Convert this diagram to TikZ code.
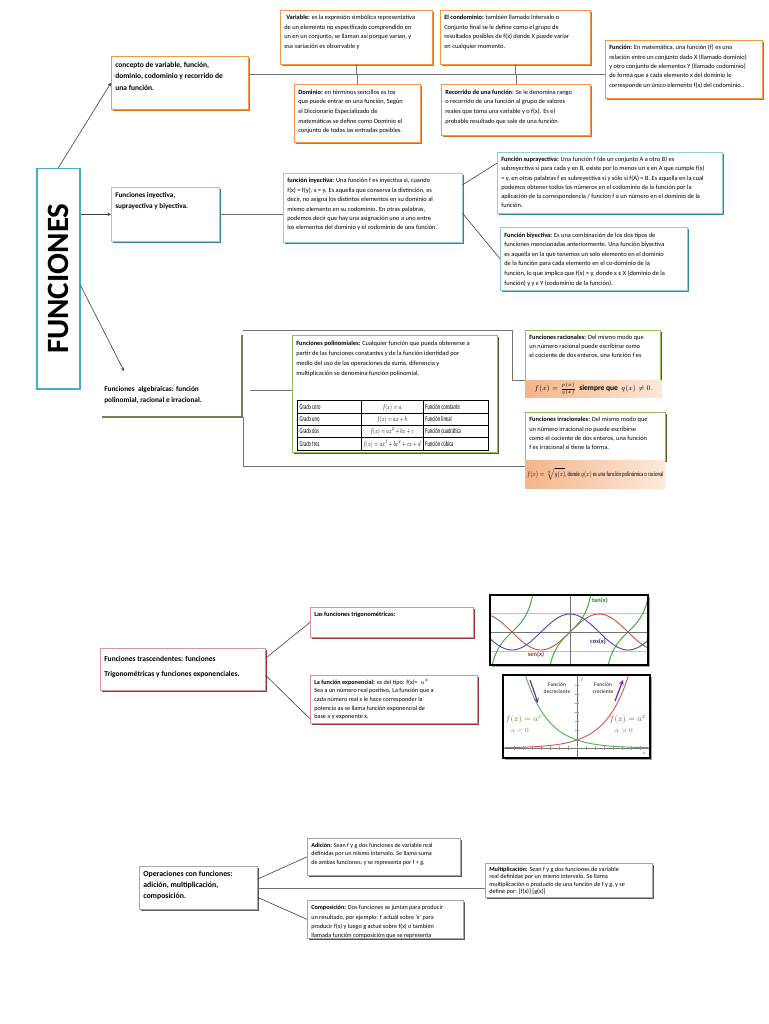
\documentclass[tikz,border=0pt]{standalone}
\usepackage{fontspec}
\setmainfont{Carlito}
\usepackage{graphicx}
\usepackage{array}
\usetikzlibrary{arrows, calc, shadows}

\definecolor{naranja}{HTML}{F79646}
\definecolor{naranjaOsc}{HTML}{E36C0A}
\definecolor{azul}{HTML}{4BACC6}
\definecolor{azulClaro}{HTML}{92CDDC}
\definecolor{azulOsc}{HTML}{31859C}
\definecolor{verde}{HTML}{9BBB59}
\definecolor{verdeOsc}{HTML}{4F6228}
\definecolor{rosa}{HTML}{D99694}
\definecolor{rojoOsc}{HTML}{943634}
\definecolor{gris}{HTML}{A6A6A6}
\definecolor{grisOsc}{HTML}{595959}
\definecolor{bandaIzq}{HTML}{F5B48A}
\definecolor{bandaDer}{HTML}{FDE9DA}
\definecolor{seno}{HTML}{C0504D}
\definecolor{coseno}{HTML}{4646B4}
\definecolor{tangente}{HTML}{3CA03C}
\definecolor{expVerde}{HTML}{4CAF50}
\definecolor{expRojo}{HTML}{D9534F}
\definecolor{violeta}{HTML}{7030A0}
\definecolor{oliva}{HTML}{8A7A2E}
\definecolor{ladrillo}{HTML}{A0463A}

% caja de texto con lineas fijas
\newcommand{\texto}[3]{\parbox[c][#2][t]{#1}{\begin{tabular}[t]{@{}l@{}}#3\end{tabular}}}
\newcommand{\angosto}[1]{\scalebox{0.62}[1]{#1}}

\begin{document}
\begin{tikzpicture}[x=1pt, y=-1pt]
    \tikzstyle{caja} = [rectangle, anchor=north west, inner xsep=4pt, inner ysep=3pt, fill=white, line width=0.6pt, font=\fontsize{6.4}{9.4}\selectfont]
    \tikzstyle{cajaNaranja} = [caja, draw=naranja, drop shadow={shadow xshift=1.3pt, shadow yshift=-1.3pt, fill=naranjaOsc, opacity=1}]
    \tikzstyle{cajaAzul} = [caja, draw=azulClaro, drop shadow={shadow xshift=1.3pt, shadow yshift=-1.3pt, fill=azulOsc, opacity=1}]
    \tikzstyle{cajaVerde} = [caja, draw=verde, drop shadow={shadow xshift=1.3pt, shadow yshift=-1.3pt, fill=verdeOsc, opacity=1}]
    \tikzstyle{cajaRoja} = [caja, draw=rosa, drop shadow={shadow xshift=1.3pt, shadow yshift=-1.3pt, fill=rojoOsc, opacity=1}]
    \tikzstyle{cajaGris} = [caja, draw=gris, drop shadow={shadow xshift=1.3pt, shadow yshift=-1.3pt, fill=grisOsc, opacity=1}]
    \tikzstyle{banda} = [rectangle, anchor=north west, inner sep=0pt, left color=bandaIzq, right color=bandaDer]
    \tikzstyle{linea} = [draw=black!55, line width=0.6pt]
    \tikzstyle{lineaOsc} = [draw=black!75, line width=0.6pt]
    \tikzstyle{flecha} = [draw=black!75, line width=0.6pt, ->, >=stealth]
    \tikzstyle{marco} = [draw=black, line width=2pt]
    \tikzstyle{rotulo} = [font=\fontsize{6.5}{7}\selectfont\bfseries, inner sep=1pt]

    \fill[white] (0,0) rectangle (768,1024);
    \useasboundingbox (0,0) rectangle (768,1024);

    % raiz
    \node[caja, draw=azul, line width=1.5pt, minimum width=43pt, minimum height=220pt, inner sep=0pt,
          drop shadow={shadow xshift=1pt, shadow yshift=-1pt, fill=azulOsc!60, opacity=1}] (funciones) at (36,168)
          {\rotatebox{90}{\fontsize{31}{31}\selectfont\bfseries FUNCIONES}};

    % rama 1: conceptos
    \node[cajaNaranja, font=\fontsize{7.5}{11.5}\selectfont\bfseries] (concepto) at (111,56)
          {\texto{129pt}{47pt}{concepto de variable, función,\\ dominio, codominio y recorrido de\\ una función.}};
    \node[cajaNaranja] (variable) at (280,10)
          {\texto{144pt}{48pt}{\hspace{2pt}\textbf{Variable:} es la expresión simbólica representativa\\ de un elemento no especificado comprendido en\\ un en un conjunto, se llaman así porque varian, y\\ esa variación es observable y}};
    \node[cajaNaranja] (condominio) at (440,10)
          {\texto{142pt}{48pt}{\textbf{El condominio:} también llamado Intervalo o\\ Conjunto final se le define como el grupo de\\ resultados posibles de f(x) donde X puede variar\\ en cualquier momento.}};
    \node[cajaNaranja, font=\fontsize{6.4}{9.3}\selectfont] (funcion) at (605,40)
          {\texto{149pt}{52pt}{\textbf{Función:} En matemática, una función (f) es una\\ relación entre un conjunto dado X (llamado dominio)\\ y otro conjunto de elementos Y (llamado codominio)\\ de forma que a cada elemento x del dominio le\\ corresponde un único elemento f(x) del codominio..}};
    \node[cajaNaranja, font=\fontsize{6.4}{9.7}\selectfont] (dominio) at (294,84)
          {\texto{118pt}{52pt}{\textbf{Dominio:} en términos sencillos es los\\ que puede entrar en una función, Según\\ el Diccionario Especializado de\\ matemáticas se define como Dominio el\\ conjunto de todas las entradas posibles.}};
    \node[cajaNaranja, font=\fontsize{6.4}{9.7}\selectfont] (recorrido) at (441,84)
          {\texto{141pt}{45pt}{\textbf{Recorrido de una función}: Se le denomina rango\\ o recorrido de una función al grupo de valores\\ reales que toma una variable y o f(x). Es el\\ probable resultado que sale de una función}};

    % rama 2: tipos
    \node[cajaAzul, font=\fontsize{7.2}{11}\selectfont\bfseries] (tipos) at (111,187)
          {\texto{100pt}{48pt}{Funciones inyectiva,\\ suprayectiva y biyectiva.}};
    \node[cajaAzul] (inyectivo) at (283,173)
          {\texto{171pt}{63pt}{\textbf{función inyectiva:} Una función f es inyectiva si, cuando\\ f(x) = f(y), x = y. Es aquella que conserva la distinción, es\\ decir, no asigna los distintos elementos en su dominio al\\ mismo elemento en su codominio. En otras palabras,\\ podemos decir que hay una asignación uno a uno entre\\ los elementos del dominio y el codominio de una función.}};
    \node[cajaAzul, font=\fontsize{6.4}{9.2}\selectfont] (suprayectiva) at (497,152)
          {\texto{217pt}{55pt}{\textbf{Función suprayectiva:} Una función f (de un conjunto A a otro B) es\\ subreyectiva si para cada y en B, existe por lo menos un x en A que cumple f(x)\\ = y, en otras palabras f es subreyectiva si y sólo si f(A) = B. Es aquella en la cual\\ podemos obtener todos los números en el codominio de la función por la\\ aplicación de la correspondencia / función f a un número en el dominio de la\\ función.}};
    \node[cajaAzul, font=\fontsize{6.4}{9.6}\selectfont] (biyectiva) at (500,227)
          {\texto{179pt}{57pt}{\textbf{Función biyectiva:} Es una combinación de los dos tipos de\\ funciones mencionadas anteriormente. Una función biyectiva\\ es aquella en la que tenemos un solo elemento en el dominio\\ de la función para cada elemento en el co-dominio de la\\ función, lo que implica que f(x) = y, donde x ε X (dominio de la\\ función) y y ε Y (codominio de la función).}};

    % rama 3: algebraicas
    \node[caja, draw=none, font=\fontsize{7.3}{11}\selectfont\bfseries,
          drop shadow={shadow xshift=1.5pt, shadow yshift=-1.5pt, fill=verdeOsc!80, opacity=1}] (algebraicas) at (100,333)
          {\parbox[c][77pt][t]{133pt}{\vspace*{47pt}\begin{tabular}[t]{@{}l@{}}Funciones\ \ algebraicas: función\\ polinomial, racional e irracional.\end{tabular}}};
    \node[cajaVerde, font=\fontsize{6.4}{10}\selectfont] (polinomiales) at (292,335)
          {\texto{197pt}{111pt}{\textbf{Funciones polinomiales:} Cualquier función que pueda obtenerse a\\ partir de las funciones constantes y de la función identidad por\\ medio del uso de las operaciones de suma, diferencia y\\ multiplicación se denomina función polinomial.}};
    \node[anchor=north west, inner sep=0pt, font=\fontsize{7.5}{12}\selectfont] (tablaPol) at (297,400)
          {\setlength{\tabcolsep}{2pt}\begin{tabular}{|p{59pt}|>{\centering\arraybackslash}p{58pt}|p{61pt}|}
           \hline
           \angosto{Grado cero} & \angosto{$f(x)=a$} & \angosto{Función constante}\\ \hline
           \angosto{Grado uno} & \angosto{$f(x)=ax+b$} & \angosto{Función lineal}\\ \hline
           \angosto{Grado dos} & \angosto{$f(x)=ax^2+bx+c$} & \angosto{Función cuadrática}\\ \hline
           \angosto{Grado tres} & \angosto{$f(x)=ax^3+bx^2+cx+d$} & \angosto{Función cúbica}\\ \hline
           \end{tabular}};
    \node[cajaVerde, font=\fontsize{6.4}{9}\selectfont] (racionales) at (525,330)
          {\texto{127pt}{44pt}{\textbf{Funciones racionales:} Del mismo modo que\\ un número racional puede escribirse como\\ el cociente de dos enteros, una función f es}};
    \node[banda, minimum width=137pt, minimum height=17pt, font=\fontsize{7.5}{8}\selectfont] (bandaRac) at (525,380)
          {$f(x)=\frac{p(x)}{q(x)}$\ \ \textbf{siempre que}\ \ $q(x)\neq 0.$};
    \node[cajaVerde, font=\fontsize{6.4}{9.3}\selectfont] (irracionales) at (525,412)
          {\texto{132pt}{42pt}{\textbf{Funciones irracionales:} Del mismo modo que\\ un número irracional no puede escribirse\\ como el cociente de dos enteros, una función\\ f es irracional si tiene la forma.}};
    \node[banda, minimum width=140pt, minimum height=28pt, font=\fontsize{6.6}{8}\selectfont] (bandaIrr) at (525,460)
          {\scalebox{0.72}[1]{$f(x)=\sqrt[n]{g(x)}$, donde $g(x)$ es una función polinómica o racional}};

    % trascendentes
    \node[cajaRoja, font=\fontsize{7.5}{15}\selectfont\bfseries] (trascendentes) at (100,648)
          {\texto{157pt}{36pt}{Funciones trascendentes: funciones\\ Trigonométricas y funciones exponenciales.}};
    \node[cajaRoja] (trig) at (310,607)
          {\texto{155pt}{24pt}{\textbf{Las funciones trigonométricas:}}};
    \node[cajaRoja, font=\fontsize{6.2}{8.6}\selectfont] (exponencial) at (310,675)
          {\texto{159pt}{42pt}{\textbf{La función exponencial:} es del tipo: f(x)=\ \ $a^x$\\ Sea a un número real positivo. La función que a\\ cada número real x le hace corresponder la\\ potencia ax se llama función exponencial de\\ base a y exponente x.}};

    % operaciones
    \node[cajaGris, font=\fontsize{7.8}{10.7}\selectfont\bfseries] (operaciones) at (139,866)
          {\texto{110pt}{37pt}{Operaciones con funciones:\\ adición, multiplicación,\\ composición.}};
    \node[cajaGris, font=\fontsize{6.1}{8.5}\selectfont] (adicion) at (307,838)
          {\texto{145pt}{31pt}{\textbf{Adición:} Sean f y g dos funciones de variable real\\ definidas por un mismo intervalo. Se llama suma\\ de ambas funciones, y se representa por f + g.}};
    \node[cajaGris, font=\fontsize{6.2}{9.3}\selectfont] (composicion) at (307,900)
          {\texto{148pt}{32pt}{\textbf{Composición:} Dos funciones se juntan para producir\\ un resultado, por ejemplo: f actuál sobre 'x' para\\ producir f(x) y luego g actué sobre f(x) o también\\ llamada función composición que se representa}};
    \node[cajaGris, font=\fontsize{6.2}{7.3}\selectfont] (multiplicacion) at (485,863)
          {\texto{159pt}{28pt}{\textbf{Multiplicación:} Sean f y g dos funciones de variable\\ real definidas por un mismo intervalo. Se llama\\ multiplicación o producto de una función de f y g, y se\\ define por: [f(x)] [g(x)]}};

    % conectores
    \coordinate (eje) at (0,74);
    \draw[linea] (concepto.east |- eje) -- (funcion.west |- eje);
    \draw[linea] (variable.south) -- (variable.south |- eje);
    \draw[linea] (condominio.south) -- (condominio.south |- eje);
    \draw[linea] (dominio.north) -- (dominio.north |- eje);
    \draw[linea] (recorrido.north) -- (recorrido.north |- eje);

    \draw[flecha] (funciones.north) -- (concepto.west);
    \draw[flecha] (funciones.east |- tipos.west) -- (tipos.west);
    \coordinate (llegadaAlg) at (124,371);
    \draw[flecha] ($(funciones.north east)!0.53!(funciones.south east)$) -- (llegadaAlg);

    \draw[linea] (tipos.east) -- (tipos.east -| inyectivo.west);
    \draw[lineaOsc] ($(inyectivo.north east)!0.17!(inyectivo.south east)$) -- ($(suprayectiva.north west)!0.18!(suprayectiva.south west)$);
    \draw[lineaOsc] ($(inyectivo.north east)!0.58!(inyectivo.south east)$) -- (biyectiva.west);

    \coordinate (marcoSup) at (243,330);
    \coordinate (marcoDer) at (512,330);
    \coordinate (marcoInf) at (243,466);
    \draw[linea] (marcoSup) -- (marcoDer) -- (marcoDer |- bandaRac.north west) -- (bandaRac.north west);
    \draw[linea] (algebraicas.south east -| marcoInf) -- (marcoInf) -- (marcoInf -| bandaIrr.west);
    \coordinate (salidaPol) at (250,390);
    \draw[linea] (salidaPol) -- (salidaPol -| polinomiales.west);

    \draw[lineaOsc] ($(trascendentes.north east)!0.24!(trascendentes.south east)$) -- (trig.west);
    \draw[lineaOsc] ($(trascendentes.north east)!0.64!(trascendentes.south east)$) -- ($(exponencial.north west)!0.9!(exponencial.south west)$);

    \draw[lineaOsc] ($(operaciones.north east)!0.3!(operaciones.south east)$) -- (adicion.west);
    \draw[linea] (operaciones.east) -- (operaciones.east -| multiplicacion.west);
    \draw[lineaOsc] ($(operaciones.north east)!0.72!(operaciones.south east)$) -- (composicion.west);

    % grafica trigonometrica
    \fill[black!35] (492,597) rectangle (650,667);
    \fill[white] (490,595) rectangle (648,665);
    \begin{scope}
        \clip (491,596) rectangle (647,664);
        \draw[black!25, line width=0.4pt] (490,613) -- (648,613);
        \draw[black!25, line width=0.4pt] (490,651) -- (648,651);
        \draw[black!55, line width=0.5pt] (490,632) -- (648,632);
        \draw[black!55, line width=0.5pt] (570,595) -- (570,665);
        \draw[seno, line width=0.9pt] plot[domain=-82:80, samples=60, smooth] ({570+\x}, {632-18*sin(3.1034*\x)});
        \draw[coseno, line width=0.9pt] plot[domain=-82:80, samples=60, smooth] ({570+\x}, {632-18*cos(3.1034*\x)});
        \foreach \c in {512,570,628}
            \draw[tangente, line width=0.9pt] plot[domain=-26:26, samples=40, smooth] ({\c+\x}, {632-18*tan(3.1034*\x)});
    \end{scope}
    \draw[marco] (490,595) rectangle (648,665);
    \node[rotulo, text=tangente!80!black] (tanx) at (600,601) {tan(x)};
    \node[rotulo, text=coseno!70!black] (cosx) at (598,642) {cos(x)};
    \node[rotulo, text=seno!80!black] (senx) at (536,655) {sen(x)};

    % grafica exponencial
    \fill[black!35] (505,677) rectangle (652,760);
    \fill[white] (503,675) rectangle (650,758);
    \begin{scope}
        \clip (504,676) rectangle (649,757);
        \draw[black!55, line width=0.5pt] (503,748) -- (650,748);
        \draw[black!55, line width=0.5pt] (577,675) -- (577,758);
        \foreach \t in {514,523,...,640}
            \draw[black!40, line width=0.3pt] (\t,746) -- (\t,750);
        \foreach \t in {685,694,...,740}
            \draw[black!40, line width=0.3pt] (575,\t) -- (579,\t);
        \draw[expVerde, line width=0.9pt] plot[domain=505:648, samples=60, smooth] (\x, {748-8*exp(-0.0428*(\x-577))});
        \draw[expRojo, line width=0.9pt] plot[domain=505:648, samples=60, smooth] (\x, {748-8*exp(0.0428*(\x-577))});
    \end{scope}
    \draw[marco] (503,675) rectangle (650,758);
    \draw[violeta, line width=1.2pt, -stealth] (530,680) -- (538,703);
    \draw[violeta, line width=1.2pt, -stealth] (615,701) -- (623,680);
    \node[font=\fontsize{5.5}{6.2}\selectfont\bfseries, text=black!65, align=center] (decrece) at (557,688) {Función\\ decreciente};
    \node[font=\fontsize{5.5}{6.2}\selectfont\bfseries, text=black!65, align=center] (crece) at (603,688) {Función\\ creciente};
    \node[font=\fontsize{5}{6}\selectfont, text=black!60] (ejeY) at (582,680) {y};
    \node[font=\fontsize{5}{6}\selectfont, text=black!60] (ejeX) at (644,753) {x};
    \node[font=\fontsize{8}{9}\selectfont, text=oliva] (fIzq) at (524,719) {$f(x)=a^x$};
    \node[font=\fontsize{6}{7}\selectfont, text=oliva] (aIzq) at (520,731) {$a<0$};
    \node[font=\fontsize{8}{9}\selectfont, text=ladrillo] (fDer) at (628,719) {$f(x)=a^x$};
    \node[font=\fontsize{6}{7}\selectfont, text=ladrillo] (aDer) at (624,731) {$a>0$};
\end{tikzpicture}
\end{document}
